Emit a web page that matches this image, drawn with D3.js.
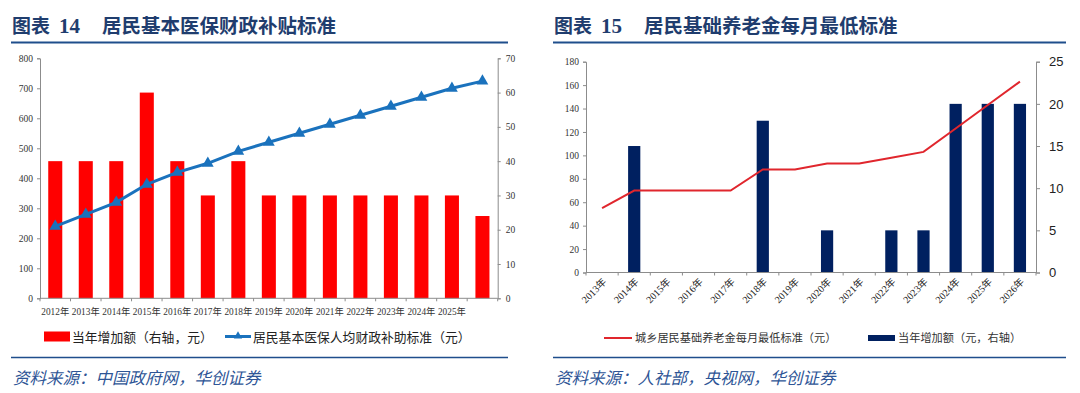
<!DOCTYPE html>
<html><head><meta charset="utf-8">
<script src="https://cdn.jsdelivr.net/npm/d3@7"></script>
<style>
html,body{margin:0;padding:0;background:#fff;}
svg{display:block;}
</style></head>
<body>
<svg id="c" width="1080" height="393"></svg>
<script>
// ---- Chart 14 data ----
const years14 = ["2012年","2013年","2014年","2015年","2016年","2017年","2018年","2019年","2020年","2021年","2022年","2023年","2024年","2025年",""];
const increase14 = [40,40,40,60,40,30,40,30,30,30,30,30,30,30,24];
const standard14 = [240,280,320,380,420,450,490,520,550,580,610,640,670,700,724];
const leftTicks14 = [0,100,200,300,400,500,600,700,800];
const rightTicks14 = [0,10,20,30,40,50,60,70];

// ---- Chart 15 data ----
const years15 = ["2013年","2014年","2015年","2016年","2017年","2018年","2019年","2020年","2021年","2022年","2023年","2024年","2025年","2026年"];
const pension15 = [55,70,70,70,70,88,88,93,93,98,103,123,143,163];
const increase15 = [0,15,0,0,0,18,0,5,0,5,5,20,20,20];
const leftTicks15 = [0,20,40,60,80,100,120,140,160,180];
const rightTicks15 = [0,5,10,15,20,25];

const svg = d3.select("#c");
const blue = "#1f4e8c";
const axisCol = "#8c8c8c";
const serif = "'Liberation Serif','Times New Roman','Noto Sans CJK SC',serif";
const cjk = "'Noto Sans CJK SC','Noto Sans',sans-serif";

function header(x0, x1, num, title, src){
  const t = svg.append("text").attr("x", x0+1).attr("y", 33)
    .attr("fill", "#1f3d6e").attr("font-weight", "bold");
  t.append("tspan").attr("font-family", cjk).attr("font-size", 19).text("图表");
  t.append("tspan").attr("dx", 9).attr("font-family", serif).attr("font-size", 21).text(num);
  t.append("tspan").attr("dx", 22).attr("font-family", cjk).attr("font-size", 19.5).text(title);
  svg.append("line").attr("x1", x0).attr("x2", x1).attr("y1", 42.5).attr("y2", 42.5)
    .attr("stroke", blue).attr("stroke-width", 2);
  svg.append("line").attr("x1", x0).attr("x2", x1).attr("y1", 357.5).attr("y2", 357.5)
    .attr("stroke", blue).attr("stroke-width", 1.5);
  svg.append("text").attr("x", x0+2).attr("y", 384).attr("fill", "#2e5596")
    .attr("font-family", cjk).attr("font-size", 16.5).attr("font-style", "italic")
    .text(src);
}

header(11, 508, "14", "居民基本医保财政补贴标准", "资料来源：中国政府网，华创证券");
header(553, 1066, "15", "居民基础养老金每月最低标准", "资料来源：人社部，央视网，华创证券");

// ================= Chart 14 =================
(function(){
  const X0 = 40, X1 = 497.7, YT = 58.3, YB = 298.3;
  const x = d3.scaleBand().domain(d3.range(years14.length)).range([X0, X1]).padding(0);
  const yL = d3.scaleLinear().domain([0, 800]).range([YB, YT]);
  const yR = d3.scaleLinear().domain([0, 70]).range([YB, YT]);
  const g = svg.append("g");
  const bw = x.bandwidth() * 0.46;

  g.selectAll("rect.bar").data(increase14).join("rect")
    .attr("x", (d,i) => x(i) + (x.bandwidth()-bw)/2)
    .attr("width", bw)
    .attr("y", d => yR(d))
    .attr("height", d => YB - yR(d))
    .attr("fill", "#ff0000");

  const axL = d3.axisLeft(yL).tickValues(leftTicks14).tickSize(3).tickPadding(4);
  const gl = g.append("g").attr("transform", `translate(${X0},0)`).call(axL);
  const axR = d3.axisRight(yR).tickValues(rightTicks14).tickSize(3).tickPadding(5);
  const gr = g.append("g").attr("transform", `translate(${X1},0)`).call(axR);
  [gl, gr].forEach(s => {
    s.selectAll("path,line").attr("stroke", axisCol);
    s.selectAll("text").attr("font-family", serif).attr("font-size", 9.5).attr("fill", "#333");
  });
  const gx = g.append("g");
  gx.append("line").attr("x1", X0).attr("x2", X1).attr("y1", YB).attr("y2", YB).attr("stroke", axisCol);
  gx.selectAll("line.t").data(d3.range(years14.length + 1)).join("line")
    .attr("x1", i => i < years14.length ? x(i) : X1).attr("x2", i => i < years14.length ? x(i) : X1)
    .attr("y1", YB).attr("y2", YB + 3).attr("stroke", axisCol);
  gx.selectAll("text").data(years14).join("text")
    .attr("x", (d,i) => x(i) + x.bandwidth()/2).attr("y", 314.5)
    .attr("text-anchor", "middle").attr("font-family", serif).attr("font-size", 9.3)
    .attr("fill", "#333").text(d => d);

  const lineGen = d3.line().x((d,i) => x(i) + x.bandwidth()/2).y(d => yL(d));
  g.append("path").datum(standard14).attr("d", lineGen)
    .attr("fill", "none").attr("stroke", "#1a72bd").attr("stroke-width", 3);
  const tri = d3.symbol(d3.symbolTriangle).size(60);
  g.selectAll("path.m").data(standard14).join("path")
    .attr("d", tri)
    .attr("transform", (d,i) => `translate(${x(i) + x.bandwidth()/2},${yL(d)})`)
    .attr("fill", "#1a72bd");

  const lg = svg.append("g");
  lg.append("rect").attr("x", 44).attr("y", 331.5).attr("width", 26).attr("height", 10).attr("fill", "#ff0000");
  lg.append("text").attr("x", 72).attr("y", 341.5).attr("font-family", cjk).attr("font-size", 12.8)
    .attr("fill", "#222").text("当年增加额（右轴，元）");
  lg.append("line").attr("x1", 225).attr("x2", 251).attr("y1", 336.5).attr("y2", 336.5)
    .attr("stroke", "#1a72bd").attr("stroke-width", 3);
  lg.append("path").attr("d", d3.symbol(d3.symbolTriangle).size(30))
    .attr("transform", "translate(238,336)").attr("fill", "#1a72bd");
  lg.append("text").attr("x", 253).attr("y", 341.5).attr("font-family", cjk).attr("font-size", 12.8)
    .attr("fill", "#222").text("居民基本医保人均财政补助标准（元）");
})();

// ================= Chart 15 =================
(function(){
  const X0 = 586, X1 = 1036, YT = 61.7, YB = 272.5;
  const x = d3.scaleBand().domain(d3.range(years15.length)).range([X0, X1]).padding(0);
  const yL = d3.scaleLinear().domain([0, 180]).range([YB, YT]);
  const yR = d3.scaleLinear().domain([0, 25]).range([YB, YT]);
  const g = svg.append("g");
  const bw = x.bandwidth() * 0.38;

  g.selectAll("rect.bar").data(increase15).join("rect")
    .attr("x", (d,i) => x(i) + (x.bandwidth()-bw)/2)
    .attr("width", bw)
    .attr("y", d => yR(d))
    .attr("height", d => YB - yR(d))
    .attr("fill", "#002060");

  const axL = d3.axisLeft(yL).tickValues(leftTicks15).tickSize(3).tickPadding(4);
  const gl = g.append("g").attr("transform", `translate(${X0},0)`).call(axL);
  gl.selectAll("path,line").attr("stroke", axisCol);
  gl.selectAll("text").attr("font-family", serif).attr("font-size", 9.5).attr("fill", "#333");
  const axR = d3.axisRight(yR).tickValues(rightTicks15).tickSize(4).tickPadding(9);
  const gr = g.append("g").attr("transform", `translate(${X1},0)`).call(axR);
  gr.selectAll("path,line").attr("stroke", axisCol);
  gr.selectAll("text").attr("font-family", "'Liberation Sans','Open Sans',sans-serif").attr("font-size", 13).attr("fill", "#222");

  const gx = g.append("g");
  gx.append("line").attr("x1", X0).attr("x2", X1).attr("y1", YB).attr("y2", YB).attr("stroke", axisCol);
  gx.selectAll("line.t").data(d3.range(years15.length + 1)).join("line")
    .attr("x1", i => i < years15.length ? x(i) : X1).attr("x2", i => i < years15.length ? x(i) : X1)
    .attr("y1", YB).attr("y2", YB + 3).attr("stroke", axisCol);
  gx.selectAll("text").data(years15).join("text")
    .attr("text-anchor", "end")
    .attr("transform", (d,i) => `translate(${x(i) + x.bandwidth()/2 + 5},${YB + 10}) rotate(-45)`)
    .attr("font-family", serif).attr("font-size", 10).attr("fill", "#222").text(d => d);

  const lineGen = d3.line().x((d,i) => x(i) + x.bandwidth()/2).y(d => yL(d));
  g.append("path").datum(pension15).attr("d", lineGen)
    .attr("fill", "none").attr("stroke", "#e0262d").attr("stroke-width", 2);

  const lg = svg.append("g");
  lg.append("line").attr("x1", 604).attr("x2", 632).attr("y1", 338).attr("y2", 338)
    .attr("stroke", "#e0262d").attr("stroke-width", 2);
  lg.append("text").attr("x", 635).attr("y", 342).attr("font-family", cjk).attr("font-size", 11.2)
    .attr("fill", "#333").text("城乡居民基础养老金每月最低标准（元）");
  lg.append("rect").attr("x", 868).attr("y", 335).attr("width", 27).attr("height", 6).attr("fill", "#002060");
  lg.append("text").attr("x", 898).attr("y", 342).attr("font-family", cjk).attr("font-size", 11.2)
    .attr("fill", "#333").text("当年增加额（元，右轴）");
})();
</script>
</body></html>
